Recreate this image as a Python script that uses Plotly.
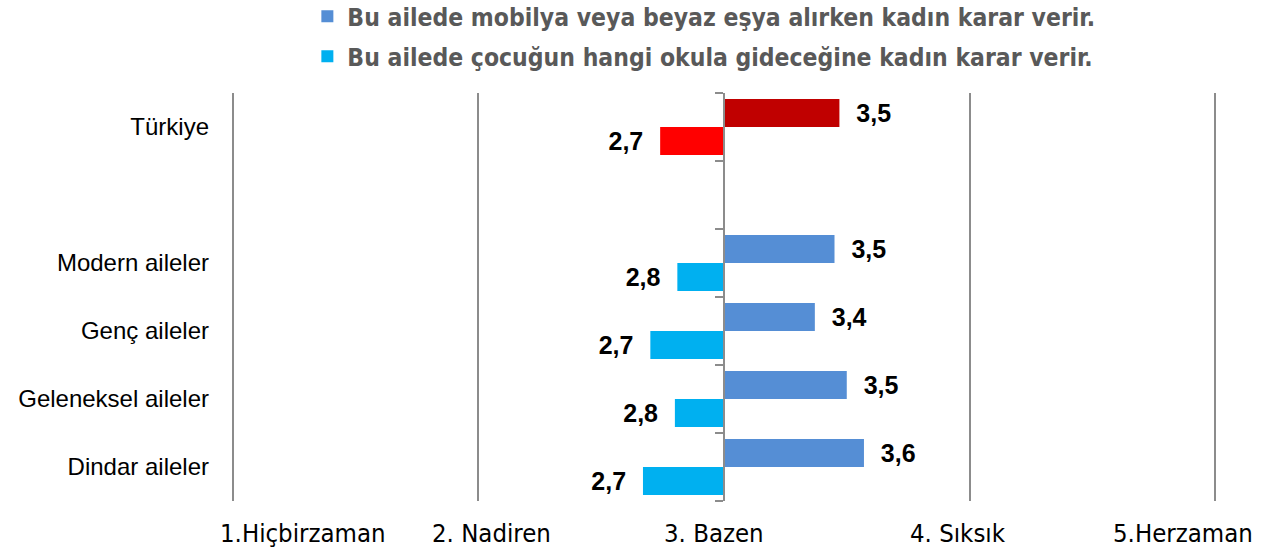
import plotly.graph_objects as go

categories = ["Türkiye", "", "Modern aileler", "Genç aileler", "Geleneksel aileler", "Dindar aileler"]
series_names = [
    "Bu ailede mobilya veya beyaz eşya alırken kadın karar verir.",
    "Bu ailede çocuğun hangi okula gideceğine kadın karar verir.",
]
mobilya = [3.47, None, 3.45, 3.37, 3.50, 3.57]
okul = [2.74, None, 2.81, 2.70, 2.80, 2.67]
scale_vals = [1, 2, 3, 4, 5]
scale_labels = ["1.Hiçbirzaman", "2. Nadiren", "3. Bazen", "4. Sıksık", "5.Herzaman"]
BASE = 3

# layout-only offsets of the scale captions from their gridlines (data units)
label_offsets = [0.287, 0.055, -0.041, -0.049, -0.132]

legend_colors = ["#558ED5", "#00B0F0"]
colors1 = ["#C00000", "#C00000", "#558ED5", "#558ED5", "#558ED5", "#558ED5"]
colors2 = ["#FF0000", "#FF0000", "#00B0F0", "#00B0F0", "#00B0F0", "#00B0F0"]

ypos = list(range(len(categories)))


def fmt(v):
    return "" if v is None else f"{v:.1f}".replace(".", ",")


LABEL_FONT = dict(family="Liberation Sans, Arial, sans-serif", size=25, color="#000000", weight="bold")
COND = "Liberation Sans Narrow, DejaVu Sans Condensed, Arial, sans-serif"
GRID = "#8C8C8C"

fig = go.Figure()
fig.add_trace(go.Bar(
    y=ypos, x=[None if v is None else v - BASE for v in mobilya], base=BASE,
    orientation="h", name=series_names[0], showlegend=False,
    marker=dict(color=colors1, line=dict(width=0)),
    text=["  " + fmt(v) if v is not None else "" for v in mobilya],
    textposition="outside", textfont=LABEL_FONT, constraintext="none",
    cliponaxis=False, hoverinfo="skip",
))
fig.add_trace(go.Bar(
    y=ypos, x=[None if v is None else v - BASE for v in okul], base=BASE,
    orientation="h", name=series_names[1], showlegend=False,
    marker=dict(color=colors2, line=dict(width=0)),
    text=[fmt(v) + "  " if v is not None else "" for v in okul],
    textposition="outside", textfont=LABEL_FONT, constraintext="none",
    cliponaxis=False, hoverinfo="skip",
))
# legend entries with the series' regular colours
for name, col, grp in zip(series_names, legend_colors, ["a", "b"]):
    fig.add_trace(go.Scatter(x=[None], y=[None], mode="markers", name=name,
                             legendgroup=grp, hoverinfo="skip",
                             marker=dict(color=col, symbol="square", size=12)))
# helper trace so the centre axis (at "3. Bazen") is drawn
fig.add_trace(go.Scatter(x=[BASE], y=[0], yaxis="y2", mode="markers",
                         marker=dict(opacity=0), showlegend=False, hoverinfo="skip"))

n = len(categories)
rng = [n - 0.5, -0.5]

fig.update_layout(
    width=1268, height=554,
    margin=dict(l=228, r=48, t=93, b=53, autoexpand=False),
    paper_bgcolor="white", plot_bgcolor="white",
    barmode="group", bargap=0.18, bargroupgap=0,
    showlegend=True,
    legend=dict(
        orientation="v", x=0.08, xanchor="left", y=1.243, yanchor="top",
        font=dict(family=COND, size=24.5, color="#595959", weight="bold"),
        tracegroupgap=5, bgcolor="rgba(0,0,0,0)", itemwidth=30,
    ),
    xaxis=dict(
        range=[0.98, 5.02], tickvals=scale_vals, showticklabels=False,
        showgrid=True, gridcolor=GRID, gridwidth=2, zeroline=False,
        showline=False, fixedrange=True,
    ),
    yaxis=dict(
        range=rng, tickvals=ypos, ticktext=categories, showgrid=False,
        zeroline=False, showline=False, ticks="", ticklabelstandoff=18,
        tickfont=dict(family="Liberation Sans, Arial, sans-serif", size=24, color="#000000"),
        fixedrange=True,
    ),
    yaxis2=dict(
        overlaying="y", anchor="free", position=0.5, range=rng,
        tickvals=[i - 0.5 for i in range(n + 1)], ticks="outside", ticklen=8,
        tickwidth=2, tickcolor=GRID, showline=True, linewidth=2, linecolor=GRID,
        showticklabels=False, showgrid=False, zeroline=False, fixedrange=True,
    ),
)

for v, lab, off in zip(scale_vals, scale_labels, label_offsets):
    fig.add_annotation(
        x=v + off, xref="x", y=0, yref="paper", yshift=-32, yanchor="middle",
        text=lab, showarrow=False,
        font=dict(family=COND, size=25.5, color="#000000"),
    )

fig.write_html("out.html", config={"displayModeBar": False},
               post_script="document.body.style.margin='0';")
